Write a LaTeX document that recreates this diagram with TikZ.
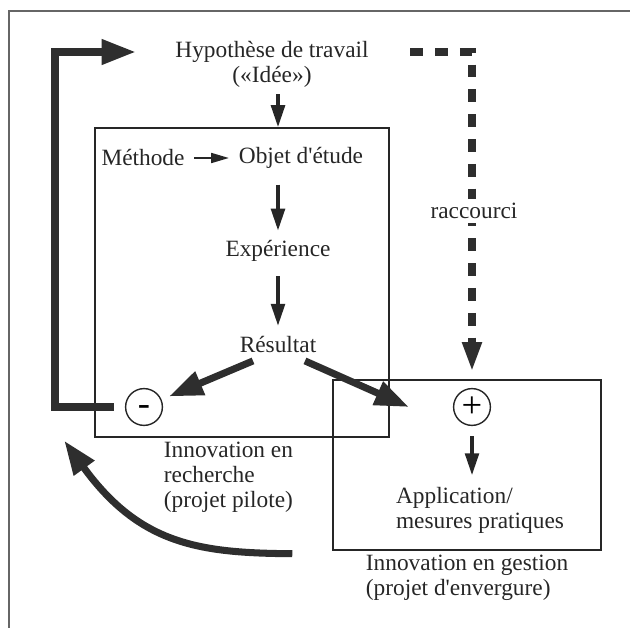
\documentclass[tikz,border=0pt]{standalone}
\usepackage{fontspec}
\setmainfont{Liberation Serif}
\usetikzlibrary{arrows.meta, positioning, calc}

\begin{document}
\begin{tikzpicture}[
    x=0.025cm, y=-0.025cm,
    txt/.style={font=\fontsize{16.6}{17.7}\selectfont, text=black!85, inner sep=1pt},
    framebox/.style={rectangle, draw=black!85, line width=1pt, inner sep=0pt},
    signnode/.style={circle, draw=black!85, line width=1pt, minimum size=0.92cm, inner sep=0pt, font=\fontsize{26}{26}\selectfont},
    arr/.style={-{Triangle[length=5.5mm, width=3.4mm]}, line width=2.6pt, black!85},
    smallarr/.style={-{Triangle[length=4.5mm, width=2.4mm]}, line width=2pt, black!85},
    bigarr/.style={-{Triangle[length=8.5mm, width=6mm]}, line width=5pt, black!82},
    dasharr/.style={-{Triangle[length=7.5mm, width=4.5mm]}, line width=5.5pt, black!82, dash pattern=on 3.2mm off 3mm}
]

\useasboundingbox (0,0) rectangle (630,628);
\draw[black!60, line width=0.8pt] (9,628) -- (9,11) -- (630,11);

% Hypothesis
\node[txt] (hyp) at (272,52) {Hypothèse de travail};
\node[txt, below=0pt of hyp] (idee) {(«Idée»)};

% Research box
\node[framebox, minimum width=7.35cm, minimum height=7.725cm] (rech) at (242,282.5) {};
\node[txt] (meth) at (143,158) {Méthode};
\node[txt] (obj) at (301,158) {Objet d\textquotesingle étude};
\node[txt] (exp) at (278,251) {Expérience};
\node[txt] (res) at (278,345) {Résultat};
\node[signnode] (minus) at (144,407) {\smash{\raisebox{-5.8pt}{-}}};
\node[txt, align=left, anchor=north west] (lblrech) at ([shift={(68,3)}]rech.south west) {Innovation en\\recherche\\(projet pilote)};

% Management box
\node[framebox, minimum width=6.7cm, minimum height=4.25cm] (gest) at (467,465) {};
\node[signnode] (plus) at (472,407) {+};
\node[txt, align=left] (app) at (480,510) {Application/\\mesures pratiques};
\node[txt, align=left, anchor=north west] (lblgest) at ([shift={(32,3)}]gest.south west) {Innovation en gestion\\(projet d\textquotesingle envergure)};

% Thin arrows
\draw[arr, shorten <=1.4mm] (idee.south -| res) -- (res |- rech.north);
\draw[smallarr, shorten <=2mm, shorten >=2mm] (meth) -- (obj);
\draw[arr, shorten <=3.6mm, shorten >=2mm] (obj.south -| exp) -- (exp);
\draw[arr, shorten <=3.3mm, shorten >=2.3mm] (exp) -- (res);
\draw[arr, shorten <=2.5mm, shorten >=2.5mm] (plus) -- (plus |- app.north);

% Thick arrows
\draw[bigarr, shorten >=2mm] ([shift={(-25,6)}]res.south) -- (minus);
\draw[bigarr] ([shift={(27,6)}]res.south) -- ([xshift=-11mm]plus.west);
\coordinate (fbcorner) at (55,52);
\draw[bigarr] ([xshift=-2.8mm]minus.west) -| (fbcorner) -- ([xshift=-9.5mm]hyp.west);
\draw[bigarr] ([shift={(-40,3)}]gest.south west) .. controls (200,553) and (140,545) .. ([shift={(-30,3)}]rech.south west);

% Shortcut
\draw[dasharr] ([xshift=10mm]hyp.east) -| ([yshift=1.8mm]plus |- gest.north);
\node[txt, fill=white, inner sep=3pt] (racc) at (474,211) {raccourci};

\end{tikzpicture}
\end{document}
